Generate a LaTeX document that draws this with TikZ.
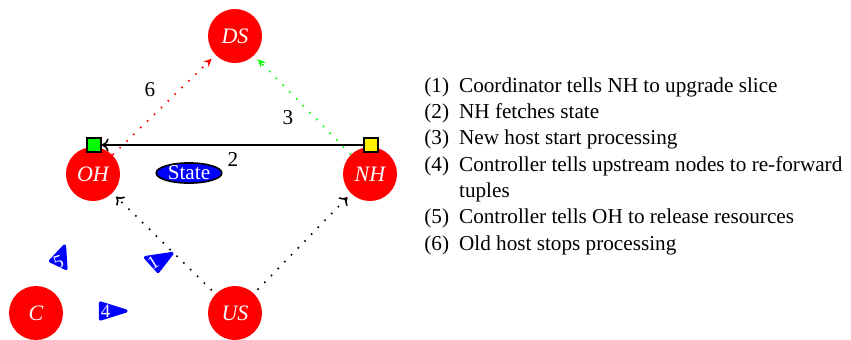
\documentclass[tikz,border=0pt]{standalone}
\usepackage{fontspec}
\setmainfont{Liberation Serif}
\usetikzlibrary{shapes.geometric, arrows.meta}
\begin{document}
\begin{tikzpicture}[x=0.5pt,y=-0.5pt,
  every node/.style={font=\fontsize{10.6}{13.17}\selectfont},
  host/.style={circle, fill=red, minimum size=27pt, inner sep=0pt, text=white,
    font=\fontsize{11}{12}\selectfont\itshape},
  sq/.style={draw=black, line width=0.6pt, minimum size=7pt, inner sep=0pt},
  msgshape/.style={fill=blue, draw=blue, line width=1.6pt, line join=round},
  msg/.style={inner sep=0pt, text=white, font=\fontsize{9.5}{10}\selectfont},
  flow/.style={loosely dotted, line width=0.8pt, shorten >=2.5pt},
  lbl/.style={inner sep=0pt}
]
\useasboundingbox (0,0) rectangle (851,339);
\node[host] (DS) at (235,36) {DS};
\node[host] (OH) at (93,174) {OH};
\node[host] (NH) at (370,174) {NH};
\node[host] (US) at (235,313) {US};
\node[host] (C) at (36,313) {C};
\draw[flow, red, -{Stealth[length=4pt,width=3.5pt]}] (OH) -- (DS);
\draw[flow, green, -{Stealth[length=4pt,width=3.5pt]}] (NH) -- (DS);
\draw[flow, black, shorten <=2.5pt, -{Computer Modern Rightarrow[length=3.5pt,width=6pt]}] (US) -- (OH);
\draw[flow, black, shorten <=2.5pt, -{Computer Modern Rightarrow[length=3.5pt,width=6pt]}] (US) -- (NH);
\node[sq, fill=green] (gs) at (94,145) {};
\node[sq, fill=yellow] (ys) at (371,145) {};
\draw[line width=0.8pt, -{Computer Modern Rightarrow[length=3.5pt,width=6.5pt]}] (ys) -- (gs);
\node[ellipse, draw=black, line width=0.8pt, fill=blue, text=white, inner xsep=1pt, inner ysep=0pt] (st) at (189,173) {State};
\node[lbl] (l2) at (233,159) {2};
\node[lbl] (l6) at (150,90) {6};
\node[lbl] (l3) at (288,118) {3};
% message triangles
\filldraw[msgshape] (100.5,303) -- (126,311) -- (100.5,319) -- cycle;
\node[msg] (m4) at (105.5,311.5) {4};
\filldraw[msgshape] (145.5,257.5) -- (172,253.5) -- (158,271.5) -- cycle;
\node[msg] (m1) at (153,263) {\rotatebox{32}{1}};
\filldraw[msgshape] (64.5,246) -- (50.5,261) -- (66,268.5) -- cycle;
\node[msg] (m5) at (58.5,262.5) {\rotatebox{18}{5}};
\node[anchor=base west, inner sep=0pt] (list) at (424,92) {\renewcommand{\arraystretch}{1.0}\begin{tabular}[t]{@{}l@{\hspace{5pt}}l@{}}
(1) & Coordinator tells NH to upgrade slice\\
(2) & NH fetches state\\
(3) & New host start processing\\
(4) & Controller tells upstream nodes to re-forward\\
    & tuples\\
(5) & Controller tells OH to release resources\\
(6) & Old host stops processing
\end{tabular}};
\end{tikzpicture}
\end{document}
